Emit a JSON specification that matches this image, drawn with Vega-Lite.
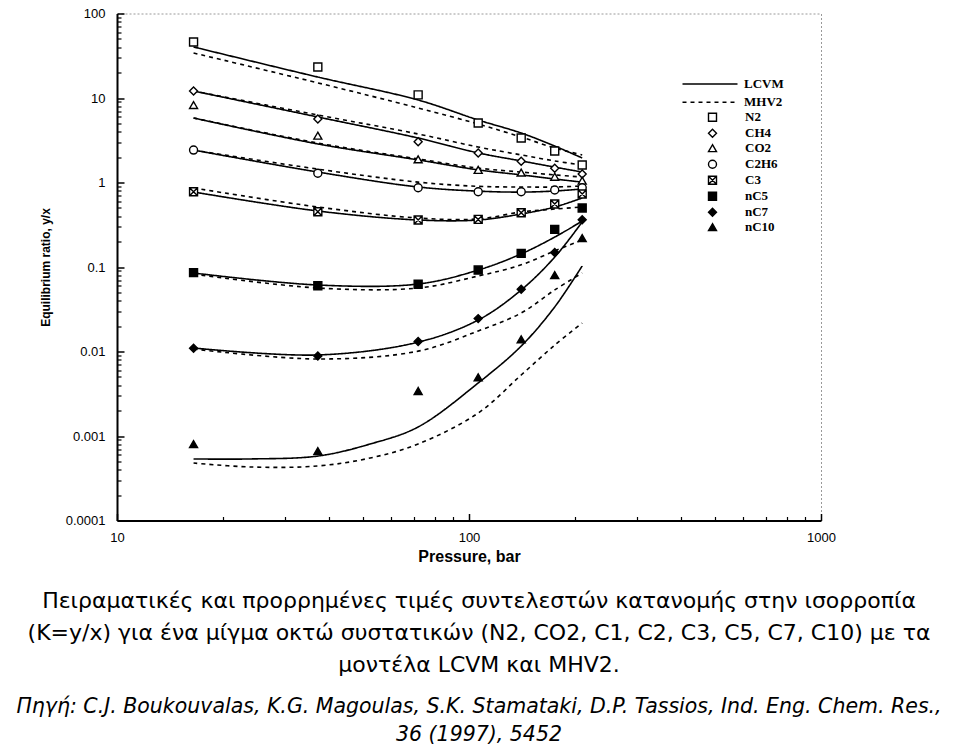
{
  "$schema": "https://vega.github.io/schema/vega-lite/v6.json",
  "width": 704,
  "height": 507,
  "autosize": {"type": "none"},
  "padding": {"left": 117, "top": 13.5, "right": 139, "bottom": 226.5},
  "background": "white",
  "config": {
    "view": {"stroke": "#999999", "strokeDash": [2, 2], "strokeWidth": 1},
    "font": "Liberation Sans"
  },
  "title": {
    "text": [
      "Πειραματικές και προρρημένες τιμές συντελεστών κατανομής στην ισορροπία",
      "(K=y/x) για ένα μίγμα οκτώ συστατικών (N2, CO2, C1, C2, C3, C5, C7, C10)  με τα",
      "μοντέλα LCVM και MHV2."
    ],
    "subtitle": [
      "Πηγή: C.J. Boukouvalas, K.G. Magoulas, S.K. Stamataki, D.P. Tassios, Ind. Eng. Chem. Res.,",
      "36 (1997), 5452"
    ],
    "orient": "bottom",
    "anchor": "middle",
    "frame": "group",
    "dx": 10,
    "offset": 26,
    "font": "DejaVu Sans",
    "fontSize": 22,
    "fontWeight": "normal",
    "lineHeight": 32,
    "color": "black",
    "subtitleFont": "DejaVu Sans",
    "subtitleFontSize": 20.5,
    "subtitleFontStyle": "italic",
    "subtitleLineHeight": 28,
    "subtitlePadding": 20,
    "subtitleColor": "black"
  },
  "datasets": {
    "curves": [
      {"component": "N2", "model": "LCVM", "P": 16.5, "K": 40.2},
      {"component": "N2", "model": "LCVM", "P": 37.2, "K": 17.7},
      {"component": "N2", "model": "LCVM", "P": 71.7, "K": 9.47},
      {"component": "N2", "model": "LCVM", "P": 106.2, "K": 5.49},
      {"component": "N2", "model": "LCVM", "P": 140.7, "K": 3.85},
      {"component": "N2", "model": "LCVM", "P": 175.2, "K": 2.70},
      {"component": "N2", "model": "LCVM", "P": 209.7, "K": 1.95},
      {"component": "N2", "model": "MHV2", "P": 16.5, "K": 34.1},
      {"component": "N2", "model": "MHV2", "P": 37.2, "K": 15.1},
      {"component": "N2", "model": "MHV2", "P": 71.7, "K": 7.62},
      {"component": "N2", "model": "MHV2", "P": 106.2, "K": 4.92},
      {"component": "N2", "model": "MHV2", "P": 140.7, "K": 3.45},
      {"component": "N2", "model": "MHV2", "P": 175.2, "K": 2.56},
      {"component": "N2", "model": "MHV2", "P": 209.7, "K": 2.12},
      {"component": "CH4", "model": "LCVM", "P": 16.5, "K": 12.1},
      {"component": "CH4", "model": "LCVM", "P": 37.2, "K": 5.96},
      {"component": "CH4", "model": "LCVM", "P": 71.7, "K": 3.36},
      {"component": "CH4", "model": "LCVM", "P": 106.2, "K": 2.24},
      {"component": "CH4", "model": "LCVM", "P": 140.7, "K": 1.80},
      {"component": "CH4", "model": "LCVM", "P": 175.2, "K": 1.52},
      {"component": "CH4", "model": "LCVM", "P": 209.7, "K": 1.33},
      {"component": "CH4", "model": "MHV2", "P": 16.5, "K": 12.1},
      {"component": "CH4", "model": "MHV2", "P": 37.2, "K": 6.29},
      {"component": "CH4", "model": "MHV2", "P": 71.7, "K": 3.75},
      {"component": "CH4", "model": "MHV2", "P": 106.2, "K": 2.63},
      {"component": "CH4", "model": "MHV2", "P": 140.7, "K": 2.12},
      {"component": "CH4", "model": "MHV2", "P": 175.2, "K": 1.80},
      {"component": "CH4", "model": "MHV2", "P": 209.7, "K": 1.61},
      {"component": "CO2", "model": "LCVM", "P": 16.5, "K": 5.80},
      {"component": "CO2", "model": "LCVM", "P": 37.2, "K": 2.86},
      {"component": "CO2", "model": "LCVM", "P": 71.7, "K": 1.85},
      {"component": "CO2", "model": "LCVM", "P": 106.2, "K": 1.41},
      {"component": "CO2", "model": "LCVM", "P": 140.7, "K": 1.23},
      {"component": "CO2", "model": "LCVM", "P": 175.2, "K": 1.10},
      {"component": "CO2", "model": "LCVM", "P": 209.7, "K": 1.01},
      {"component": "CO2", "model": "MHV2", "P": 16.5, "K": 5.80},
      {"component": "CO2", "model": "MHV2", "P": 37.2, "K": 2.93},
      {"component": "CO2", "model": "MHV2", "P": 71.7, "K": 1.90},
      {"component": "CO2", "model": "MHV2", "P": 106.2, "K": 1.48},
      {"component": "CO2", "model": "MHV2", "P": 140.7, "K": 1.33},
      {"component": "CO2", "model": "MHV2", "P": 175.2, "K": 1.23},
      {"component": "CO2", "model": "MHV2", "P": 209.7, "K": 1.16},
      {"component": "C2H6", "model": "LCVM", "P": 16.5, "K": 2.42},
      {"component": "C2H6", "model": "LCVM", "P": 37.2, "K": 1.33},
      {"component": "C2H6", "model": "LCVM", "P": 71.7, "K": 0.885},
      {"component": "C2H6", "model": "LCVM", "P": 106.2, "K": 0.79},
      {"component": "C2H6", "model": "LCVM", "P": 140.7, "K": 0.77},
      {"component": "C2H6", "model": "LCVM", "P": 175.2, "K": 0.793},
      {"component": "C2H6", "model": "LCVM", "P": 209.7, "K": 0.838},
      {"component": "C2H6", "model": "MHV2", "P": 16.5, "K": 2.42},
      {"component": "C2H6", "model": "MHV2", "P": 37.2, "K": 1.44},
      {"component": "C2H6", "model": "MHV2", "P": 71.7, "K": 1.01},
      {"component": "C2H6", "model": "MHV2", "P": 106.2, "K": 0.90},
      {"component": "C2H6", "model": "MHV2", "P": 140.7, "K": 0.885},
      {"component": "C2H6", "model": "MHV2", "P": 175.2, "K": 0.885},
      {"component": "C2H6", "model": "MHV2", "P": 209.7, "K": 0.910},
      {"component": "C3", "model": "LCVM", "P": 16.5, "K": 0.772},
      {"component": "C3", "model": "LCVM", "P": 37.2, "K": 0.46},
      {"component": "C3", "model": "LCVM", "P": 71.7, "K": 0.36},
      {"component": "C3", "model": "LCVM", "P": 106.2, "K": 0.36},
      {"component": "C3", "model": "LCVM", "P": 140.7, "K": 0.424},
      {"component": "C3", "model": "LCVM", "P": 175.2, "K": 0.513},
      {"component": "C3", "model": "LCVM", "P": 209.7, "K": 0.656},
      {"component": "C3", "model": "MHV2", "P": 16.5, "K": 0.861},
      {"component": "C3", "model": "MHV2", "P": 37.2, "K": 0.513},
      {"component": "C3", "model": "MHV2", "P": 71.7, "K": 0.38},
      {"component": "C3", "model": "MHV2", "P": 106.2, "K": 0.37},
      {"component": "C3", "model": "MHV2", "P": 140.7, "K": 0.448},
      {"component": "C3", "model": "MHV2", "P": 175.2, "K": 0.485},
      {"component": "C3", "model": "MHV2", "P": 209.7, "K": 0.513},
      {"component": "nC5", "model": "LCVM", "P": 16.5, "K": 0.0849},
      {"component": "nC5", "model": "LCVM", "P": 37.2, "K": 0.0612},
      {"component": "nC5", "model": "LCVM", "P": 71.7, "K": 0.0629},
      {"component": "nC5", "model": "LCVM", "P": 106.2, "K": 0.092},
      {"component": "nC5", "model": "LCVM", "P": 140.7, "K": 0.143},
      {"component": "nC5", "model": "LCVM", "P": 175.2, "K": 0.226},
      {"component": "nC5", "model": "LCVM", "P": 209.7, "K": 0.350},
      {"component": "nC5", "model": "MHV2", "P": 16.5, "K": 0.0826},
      {"component": "nC5", "model": "MHV2", "P": 37.2, "K": 0.0564},
      {"component": "nC5", "model": "MHV2", "P": 71.7, "K": 0.0564},
      {"component": "nC5", "model": "MHV2", "P": 106.2, "K": 0.0782},
      {"component": "nC5", "model": "MHV2", "P": 140.7, "K": 0.106},
      {"component": "nC5", "model": "MHV2", "P": 175.2, "K": 0.155},
      {"component": "nC5", "model": "MHV2", "P": 209.7, "K": 0.209},
      {"component": "nC7", "model": "LCVM", "P": 16.5, "K": 0.0110},
      {"component": "nC7", "model": "LCVM", "P": 37.2, "K": 0.0091},
      {"component": "nC7", "model": "LCVM", "P": 71.7, "K": 0.0129},
      {"component": "nC7", "model": "LCVM", "P": 106.2, "K": 0.0236},
      {"component": "nC7", "model": "LCVM", "P": 140.7, "K": 0.0535},
      {"component": "nC7", "model": "LCVM", "P": 175.2, "K": 0.131},
      {"component": "nC7", "model": "LCVM", "P": 209.7, "K": 0.341},
      {"component": "nC7", "model": "MHV2", "P": 16.5, "K": 0.0107},
      {"component": "nC7", "model": "MHV2", "P": 37.2, "K": 0.00815},
      {"component": "nC7", "model": "MHV2", "P": 71.7, "K": 0.0101},
      {"component": "nC7", "model": "MHV2", "P": 106.2, "K": 0.0175},
      {"component": "nC7", "model": "MHV2", "P": 140.7, "K": 0.0286},
      {"component": "nC7", "model": "MHV2", "P": 175.2, "K": 0.0535},
      {"component": "nC7", "model": "MHV2", "P": 209.7, "K": 0.0849},
      {"component": "nC10", "model": "LCVM", "P": 16.5, "K": 0.000535},
      {"component": "nC10", "model": "LCVM", "P": 23.9, "K": 0.000535},
      {"component": "nC10", "model": "LCVM", "P": 37.2, "K": 0.000579},
      {"component": "nC10", "model": "LCVM", "P": 52.4, "K": 0.000804},
      {"component": "nC10", "model": "LCVM", "P": 71.7, "K": 0.00128},
      {"component": "nC10", "model": "LCVM", "P": 106.2, "K": 0.00424},
      {"component": "nC10", "model": "LCVM", "P": 140.7, "K": 0.0116},
      {"component": "nC10", "model": "LCVM", "P": 175.2, "K": 0.0337},
      {"component": "nC10", "model": "LCVM", "P": 209.7, "K": 0.103},
      {"component": "nC10", "model": "MHV2", "P": 16.5, "K": 0.000479},
      {"component": "nC10", "model": "MHV2", "P": 23.9, "K": 0.00043},
      {"component": "nC10", "model": "MHV2", "P": 37.2, "K": 0.000442},
      {"component": "nC10", "model": "MHV2", "P": 52.4, "K": 0.000549},
      {"component": "nC10", "model": "MHV2", "P": 71.7, "K": 0.000804},
      {"component": "nC10", "model": "MHV2", "P": 106.2, "K": 0.00187},
      {"component": "nC10", "model": "MHV2", "P": 140.7, "K": 0.00527},
      {"component": "nC10", "model": "MHV2", "P": 175.2, "K": 0.0119},
      {"component": "nC10", "model": "MHV2", "P": 209.7, "K": 0.0217}
    ],
    "points": [
      {"component": "N2", "P": 16.5, "K": 46.0},
      {"component": "N2", "P": 37.2, "K": 23.3},
      {"component": "N2", "P": 71.7, "K": 10.9},
      {"component": "N2", "P": 106.2, "K": 5.06},
      {"component": "N2", "P": 140.7, "K": 3.36},
      {"component": "N2", "P": 175.2, "K": 2.36},
      {"component": "N2", "P": 209.7, "K": 1.61},
      {"component": "CH4", "P": 16.5, "K": 12.1},
      {"component": "CH4", "P": 37.2, "K": 5.64},
      {"component": "CH4", "P": 71.7, "K": 3.04},
      {"component": "CH4", "P": 106.2, "K": 2.24},
      {"component": "CH4", "P": 140.7, "K": 1.78},
      {"component": "CH4", "P": 175.2, "K": 1.47},
      {"component": "CH4", "P": 209.7, "K": 1.26},
      {"component": "CO2", "P": 16.5, "K": 8.26},
      {"component": "CO2", "P": 37.2, "K": 3.58},
      {"component": "CO2", "P": 71.7, "K": 1.88},
      {"component": "CO2", "P": 106.2, "K": 1.41},
      {"component": "CO2", "P": 140.7, "K": 1.31},
      {"component": "CO2", "P": 175.2, "K": 1.17},
      {"component": "CO2", "P": 209.7, "K": 1.05},
      {"component": "C2H6", "P": 16.5, "K": 2.42},
      {"component": "C2H6", "P": 37.2, "K": 1.285},
      {"component": "C2H6", "P": 71.7, "K": 0.867},
      {"component": "C2H6", "P": 106.2, "K": 0.778},
      {"component": "C2H6", "P": 140.7, "K": 0.778},
      {"component": "C2H6", "P": 175.2, "K": 0.815},
      {"component": "C2H6", "P": 209.7, "K": 0.867},
      {"component": "C3", "P": 16.5, "K": 0.778},
      {"component": "C3", "P": 37.2, "K": 0.451},
      {"component": "C3", "P": 71.7, "K": 0.36},
      {"component": "C3", "P": 106.2, "K": 0.366},
      {"component": "C3", "P": 140.7, "K": 0.439},
      {"component": "C3", "P": 175.2, "K": 0.557},
      {"component": "C3", "P": 209.7, "K": 0.73},
      {"component": "nC5", "P": 16.5, "K": 0.0857},
      {"component": "nC5", "P": 37.2, "K": 0.0601},
      {"component": "nC5", "P": 71.7, "K": 0.0624},
      {"component": "nC5", "P": 106.2, "K": 0.092},
      {"component": "nC5", "P": 140.7, "K": 0.145},
      {"component": "nC5", "P": 175.2, "K": 0.279},
      {"component": "nC5", "P": 209.7, "K": 0.499},
      {"component": "nC7", "P": 16.5, "K": 0.0109},
      {"component": "nC7", "P": 37.2, "K": 0.00885},
      {"component": "nC7", "P": 71.7, "K": 0.0131},
      {"component": "nC7", "P": 106.2, "K": 0.0245},
      {"component": "nC7", "P": 140.7, "K": 0.0545},
      {"component": "nC7", "P": 175.2, "K": 0.148},
      {"component": "nC7", "P": 209.7, "K": 0.363},
      {"component": "nC10", "P": 16.5, "K": 0.0008},
      {"component": "nC10", "P": 37.2, "K": 0.000664},
      {"component": "nC10", "P": 71.7, "K": 0.00341},
      {"component": "nC10", "P": 106.2, "K": 0.00495},
      {"component": "nC10", "P": 140.7, "K": 0.0139},
      {"component": "nC10", "P": 175.2, "K": 0.0804},
      {"component": "nC10", "P": 209.7, "K": 0.220}
    ]
  },
  "resolve": {"axis": {"x": "independent", "y": "independent"}},
  "layer": [
    {
      "data": {"name": "curves"},
      "mark": {"type": "line", "interpolate": "catmull-rom", "strokeWidth": 1.6, "color": "black"},
      "encoding": {
        "x": {
          "field": "P", "type": "quantitative",
          "scale": {"type": "log", "domain": [10, 1000], "nice": false},
          "axis": {
            "orient": "bottom", "values": [10, 100, 1000], "format": "~g",
            "title": "Pressure, bar", "titleFont": "Liberation Sans", "titleFontSize": 16, "titleFontWeight": "bold", "titleColor": "black", "titlePadding": 4,
            "labelFont": "Liberation Sans", "labelFontSize": 13, "labelColor": "black", "labelPadding": 18, "labelFlush": false, "labelOverlap": false,
            "tickSize": -7, "tickWidth": 1.5, "tickColor": "black",
            "domainColor": "black", "domainWidth": 2, "grid": false
          }
        },
        "y": {
          "field": "K", "type": "quantitative",
          "scale": {"type": "log", "domain": [0.0001, 100], "nice": false},
          "axis": {
            "orient": "left", "values": [0.0001, 0.001, 0.01, 0.1, 1, 10, 100], "format": "~g",
            "title": "Equilibrium ratio, y/x", "titleFont": "Liberation Sans", "titleFontSize": 12, "titleFontWeight": "bold", "titleColor": "black", "titlePadding": 13,
            "labelFont": "Liberation Sans", "labelFontSize": 13, "labelColor": "black", "labelPadding": 19, "labelOverlap": false, "labelFlush": false,
            "tickSize": -7, "tickWidth": 1.5, "tickColor": "black",
            "domainColor": "black", "domainWidth": 2, "grid": false
          }
        },
        "detail": {"field": "component", "type": "nominal"},
        "strokeDash": {
          "field": "model", "type": "nominal",
          "scale": {"domain": ["LCVM", "MHV2"], "range": [[1, 0], [4, 4]]},
          "legend": {
            "title": null, "orient": "none", "legendX": 586.5, "legendY": 64,
            "padding": 0, "symbolType": "M-5,0H5", "symbolSize": 121,
            "symbolStrokeColor": "black", "symbolStrokeWidth": 1.6, "symbolFillColor": "transparent",
            "labelFont": "Liberation Serif", "labelFontSize": 13, "labelFontWeight": "bold", "labelColor": "black",
            "labelOffset": 27.5, "rowPadding": 4.2
          }
        }
      }
    },
    {
      "data": {"name": "points"},
      "mark": {"type": "point", "filled": false, "strokeWidth": 1.4, "size": 64, "opacity": 1},
      "encoding": {
        "x": {
          "field": "P", "type": "quantitative",
          "scale": {"type": "log", "domain": [10, 1000], "nice": false},
          "axis": {
            "orient": "bottom", "values": [20, 30, 40, 50, 60, 70, 80, 90, 200, 300, 400, 500, 600, 700, 800, 900],
            "labels": false, "domain": false, "title": null, "grid": false,
            "tickSize": -4, "tickWidth": 1.2, "tickColor": "black"
          }
        },
        "y": {
          "field": "K", "type": "quantitative",
          "scale": {"type": "log", "domain": [0.0001, 100], "nice": false},
          "axis": {
            "orient": "left",
            "values": [0.0002, 0.0003, 0.0004, 0.0005, 0.0006, 0.0007, 0.0008, 0.0009,
                       0.002, 0.003, 0.004, 0.005, 0.006, 0.007, 0.008, 0.009,
                       0.02, 0.03, 0.04, 0.05, 0.06, 0.07, 0.08, 0.09,
                       0.2, 0.3, 0.4, 0.5, 0.6, 0.7, 0.8, 0.9,
                       2, 3, 4, 5, 6, 7, 8, 9,
                       20, 30, 40, 50, 60, 70, 80, 90],
            "labels": false, "domain": false, "title": null, "grid": false,
            "tickSize": -4, "tickWidth": 1.2, "tickColor": "black"
          }
        },
        "shape": {
          "field": "component", "type": "nominal",
          "scale": {
            "domain": ["N2", "CH4", "CO2", "C2H6", "C3", "nC5", "nC7", "nC10"],
            "range": ["square", "diamond", "triangle-up", "circle", "M-1,-1L1,-1L1,1L-1,1Z M-1,-1L1,1 M1,-1L-1,1", "square", "diamond", "triangle-up"]
          },
          "legend": {
            "title": null, "orient": "none", "legendX": 589, "legendY": 97.2,
            "padding": 0, "symbolSize": 64, "symbolStrokeWidth": 1.4,
            "labelFont": "Liberation Serif", "labelFontSize": 13, "labelFontWeight": "bold", "labelColor": "black",
            "labelOffset": 26, "rowPadding": 1
          }
        },
        "fill": {
          "field": "component", "type": "nominal",
          "scale": {
            "domain": ["N2", "CH4", "CO2", "C2H6", "C3", "nC5", "nC7", "nC10"],
            "range": ["white", "white", "white", "white", "white", "black", "black", "black"]
          },
          "legend": {
            "title": null, "orient": "none", "legendX": 589, "legendY": 97.2,
            "padding": 0, "symbolSize": 64, "symbolStrokeWidth": 1.4,
            "labelFont": "Liberation Serif", "labelFontSize": 13, "labelFontWeight": "bold", "labelColor": "black",
            "labelOffset": 26, "rowPadding": 1
          }
        },
        "stroke": {
          "field": "component", "type": "nominal",
          "scale": {
            "domain": ["N2", "CH4", "CO2", "C2H6", "C3", "nC5", "nC7", "nC10"],
            "range": ["black", "black", "black", "black", "black", "black", "black", "black"]
          },
          "legend": {
            "title": null, "orient": "none", "legendX": 589, "legendY": 97.2,
            "padding": 0, "symbolSize": 64, "symbolStrokeWidth": 1.4,
            "labelFont": "Liberation Serif", "labelFontSize": 13, "labelFontWeight": "bold", "labelColor": "black",
            "labelOffset": 26, "rowPadding": 1
          }
        }
      }
    }
  ]
}
